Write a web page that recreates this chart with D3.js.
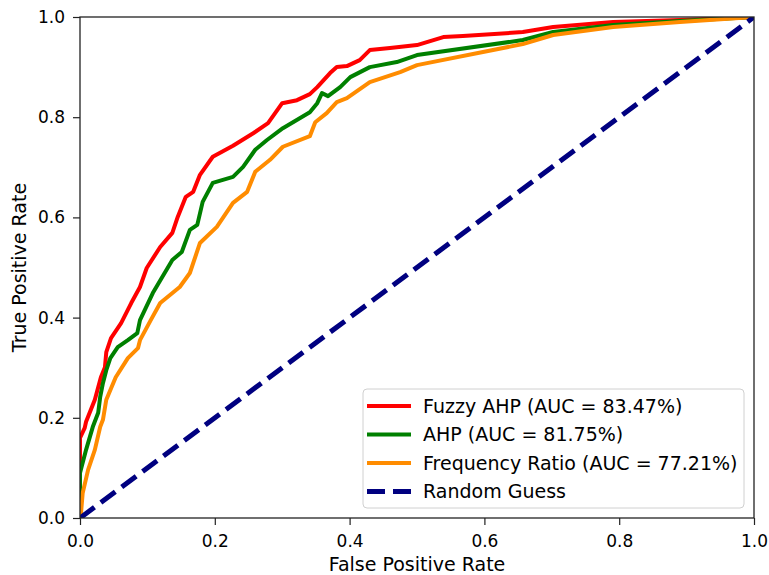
<!DOCTYPE html>
<html>
<head>
<meta charset="utf-8">
<script src="https://cdn.jsdelivr.net/npm/d3@7"></script>
<style>
  body { margin: 0; background: #fff; }
  svg { display: block; font-family: "DejaVu Sans", sans-serif; }
</style>
</head>
<body>
<script>
// ROC curve points: [false positive rate, true positive rate]
const fuzzyAhp = [
  [0, 0], [0, 0.16], [0.007, 0.18], [0.009, 0.192], [0.022, 0.236], [0.027, 0.261],
  [0.031, 0.281], [0.037, 0.301], [0.039, 0.331], [0.046, 0.359], [0.061, 0.389],
  [0.076, 0.429], [0.089, 0.461], [0.099, 0.499], [0.119, 0.541], [0.137, 0.569],
  [0.145, 0.601], [0.157, 0.641], [0.168, 0.651], [0.178, 0.685], [0.197, 0.721],
  [0.227, 0.743], [0.257, 0.768], [0.279, 0.788], [0.300, 0.828], [0.322, 0.834],
  [0.341, 0.846], [0.352, 0.860], [0.371, 0.888], [0.381, 0.900], [0.396, 0.902],
  [0.415, 0.914], [0.430, 0.934], [0.460, 0.938], [0.500, 0.944], [0.539, 0.960],
  [0.568, 0.962], [0.657, 0.970], [0.702, 0.980], [0.791, 0.990], [0.890, 0.994], [1, 1]
];
const ahp = [
  [0, 0], [0, 0.09], [0.009, 0.136], [0.019, 0.182], [0.027, 0.210], [0.030, 0.242],
  [0.034, 0.269], [0.039, 0.295], [0.045, 0.319], [0.056, 0.341], [0.071, 0.355],
  [0.085, 0.369], [0.089, 0.395], [0.108, 0.449], [0.137, 0.515], [0.151, 0.531],
  [0.163, 0.575], [0.174, 0.585], [0.182, 0.631], [0.197, 0.669], [0.227, 0.681],
  [0.242, 0.701], [0.260, 0.735], [0.277, 0.754], [0.301, 0.778], [0.326, 0.798],
  [0.341, 0.810], [0.352, 0.828], [0.359, 0.848], [0.368, 0.842], [0.386, 0.860],
  [0.401, 0.880], [0.430, 0.900], [0.470, 0.910], [0.500, 0.924], [0.657, 0.954],
  [0.702, 0.970], [0.791, 0.984], [0.890, 0.992], [1, 1]
];
const frequencyRatio = [
  [0, 0], [0.0015, 0.01], [0.004, 0.050], [0.012, 0.096], [0.022, 0.136], [0.030, 0.182],
  [0.034, 0.196], [0.039, 0.236], [0.053, 0.281], [0.071, 0.319], [0.086, 0.339],
  [0.089, 0.355], [0.105, 0.395], [0.119, 0.429], [0.148, 0.461], [0.163, 0.489],
  [0.178, 0.549], [0.203, 0.581], [0.227, 0.629], [0.248, 0.651], [0.260, 0.691],
  [0.282, 0.715], [0.301, 0.741], [0.341, 0.762], [0.349, 0.790], [0.366, 0.808],
  [0.381, 0.830], [0.396, 0.838], [0.430, 0.870], [0.475, 0.890], [0.500, 0.904],
  [0.657, 0.946], [0.702, 0.964], [0.791, 0.980], [0.890, 0.990], [1, 1]
];
const randomGuess = [[0, 0], [1, 1]];

const seriesNames = [
  "Fuzzy AHP (AUC = 83.47%)",
  "AHP (AUC = 81.75%)",
  "Frequency Ratio (AUC = 77.21%)",
  "Random Guess"
];
const tickValues = [0, 0.2, 0.4, 0.6, 0.8, 1.0];

const width = 769, height = 575;
const margin = { left: 80, right: 15, top: 17, bottom: 57 };

const svg = d3.select('body').append('svg')
  .attr('width', width)
  .attr('height', height);

const x = d3.scaleLinear().domain([0, 1]).range([margin.left, width - margin.right]);
const y = d3.scaleLinear().domain([0, 1]).range([height - margin.bottom, margin.top]);

const line = d3.line().x(d => x(d[0])).y(d => y(d[1]));

const styles = [
  { color: '#ff0000', dash: null, w: 4 },
  { color: '#008000', dash: null, w: 4 },
  { color: '#ff8c00', dash: null, w: 4 },
  { color: '#000080', dash: '18,8', w: 5 }
];
const allSeries = [fuzzyAhp, ahp, frequencyRatio, randomGuess];

svg.append('clipPath').attr('id', 'clip')
  .append('rect')
  .attr('x', x(0)).attr('y', y(1))
  .attr('width', x(1) - x(0)).attr('height', y(0) - y(1));

const plot = svg.append('g').attr('clip-path', 'url(#clip)');

allSeries.forEach((data, i) => {
  plot.append('path')
    .datum(data)
    .attr('d', line)
    .attr('fill', 'none')
    .attr('stroke', styles[i].color)
    .attr('stroke-width', styles[i].w)
    .attr('stroke-linejoin', 'round')
    .attr('stroke-dasharray', styles[i].dash);
});

// axes
const xAxis = svg.append('g')
  .attr('transform', `translate(0,${y(0)})`)
  .call(d3.axisBottom(x).tickValues(tickValues).tickFormat(d3.format('.1f')).tickSize(7).tickPadding(10));
const yAxis = svg.append('g')
  .attr('transform', `translate(${x(0)},0)`)
  .call(d3.axisLeft(y).tickValues(tickValues).tickFormat(d3.format('.1f')).tickSize(7).tickPadding(8));

[xAxis, yAxis].forEach(a => {
  a.select('.domain').remove();
  a.selectAll('text').style('font-size', '17px').style('font-family', '"DejaVu Sans", sans-serif').attr('fill', '#000');
  a.selectAll('line').attr('stroke', '#222').attr('stroke-width', 1.2);
});

// frame
svg.append('rect')
  .attr('x', x(0)).attr('y', y(1))
  .attr('width', x(1) - x(0)).attr('height', y(0) - y(1))
  .attr('fill', 'none')
  .attr('stroke', '#222')
  .attr('stroke-width', 1.3);

// axis labels
svg.append('text')
  .attr('x', (x(0) + x(1)) / 2)
  .attr('y', 571)
  .attr('text-anchor', 'middle')
  .style('font-size', '19px')
  .text('False Positive Rate');

svg.append('text')
  .attr('transform', `translate(26,${(y(0) + y(1)) / 2}) rotate(-90)`)
  .attr('text-anchor', 'middle')
  .style('font-size', '19px')
  .text('True Positive Rate');

// legend
const legend = svg.append('g');
legend.append('rect')
  .attr('x', 363).attr('y', 389)
  .attr('width', 381).attr('height', 119)
  .attr('rx', 4)
  .attr('fill', '#fff').attr('fill-opacity', 0.85)
  .attr('stroke', '#d0d0d0').attr('stroke-width', 1);

seriesNames.forEach((name, i) => {
  const ly = 406 + i * 28.5;
  legend.append('line')
    .attr('x1', 367).attr('x2', 411)
    .attr('y1', ly).attr('y2', ly)
    .attr('stroke', styles[i].color)
    .attr('stroke-width', styles[i].w)
    .attr('stroke-dasharray', styles[i].dash);
  legend.append('text')
    .attr('x', 423).attr('y', ly)
    .attr('dy', '0.35em')
    .style('font-size', '19px')
    .text(name);
});
</script>
</body>
</html>
